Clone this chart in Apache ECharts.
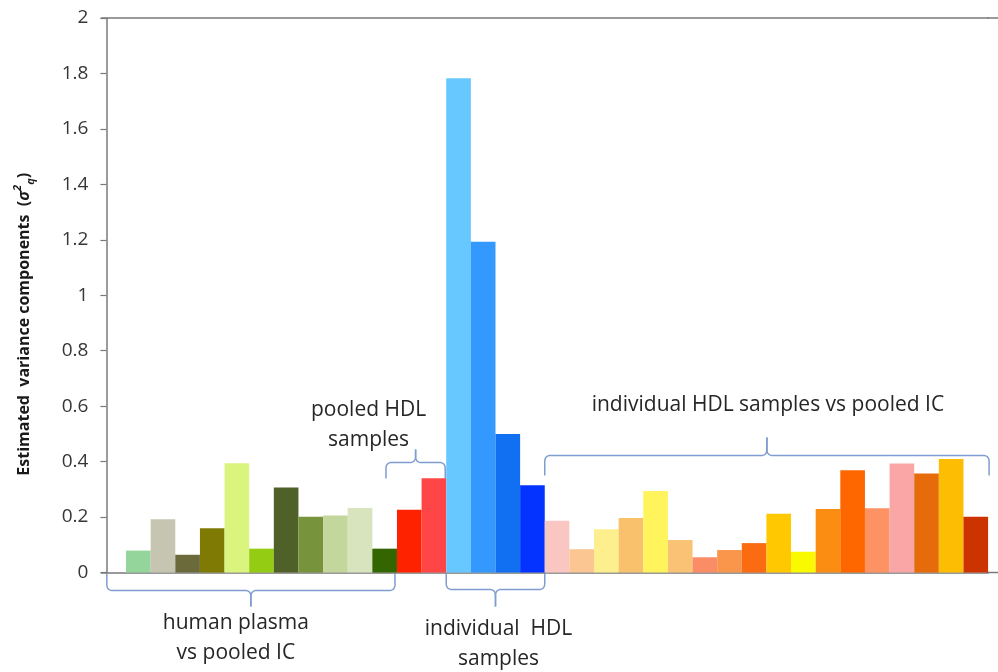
<!DOCTYPE html>
<html><head><meta charset="utf-8">
<script src="https://cdn.jsdelivr.net/npm/echarts@6/dist/echarts.min.js"></script>
<style>html,body{margin:0;padding:0;background:#fff;}#c{width:998px;height:672px;}</style>
</head><body><div id="c"></div>
<script>
// ---- data ----
const yMin = 0, yMax = 2, yStep = 0.2;
const plasmaValues = [0.079, 0.192, 0.064, 0.16, 0.394, 0.086, 0.307, 0.201, 0.206, 0.233, 0.086];
const pooledValues = [0.226, 0.34];
const individualValues = [1.783, 1.193, 0.5, 0.315];
const indivVsPooledValues = [0.187, 0.084, 0.156, 0.197, 0.294, 0.117, 0.055, 0.081, 0.106, 0.212, 0.075, 0.229, 0.369, 0.232, 0.393, 0.357, 0.409, 0.201];
const groupLabels = ['human plasma\nvs pooled IC', 'pooled HDL\nsamples', 'individual  HDL\nsamples', 'individual HDL samples vs pooled IC'];
const yAxisTitle = 'Estimated  variance components  (';

// ---- colours ----
const plasmaColors = ['#93d59a', '#c6c5b1', '#6b6a3a', '#7f7a04', '#d9f57e', '#93cc12', '#4f6128', '#77933c', '#c3d69b', '#d7e4bd', '#336600'];
const pooledColors = ['#ff2200', '#ff4646'];
const individualColors = ['#66c8ff', '#3399ff', '#1170f2', '#0433ff'];
const indivVsPooledColors = ['#f9c6c1', '#fbc692', '#fdef8d', '#fac16c', '#fff45c', '#f9c274', '#fa8d66', '#f9964c', '#fb6b12', '#ffc800', '#f9f900', '#fb8d12', '#fe6600', '#fd9262', '#fba6a6', '#e66b0b', '#fcbd02', '#cc3300'];

const groups = [plasmaValues, pooledValues, individualValues, indivVsPooledValues];
const values = [].concat(...groups);
const colors = [].concat(plasmaColors, pooledColors, individualColors, indivVsPooledColors);
const categories = [''].concat(values.map((_, i) => 'S' + (i + 1)));
const seriesData = ['-'].concat(values.map((v, i) => ({ value: v, itemStyle: { color: colors[i] } })));

const FONT = "'Open Sans', 'Noto Sans', sans-serif";
const axisColor = '#7a7a7a';
const W = 998;

const chart = echarts.init(document.getElementById('c'), null, { renderer: 'canvas' });
chart.setOption({
  animation: false,
  backgroundColor: '#ffffff',
  grid: { left: 101.4, right: 9.9, top: 18, bottom: 99.5, containLabel: false },
  xAxis: [
    { type: 'category', data: categories, position: 'bottom', boundaryGap: true,
      axisLine: { show: true, onZero: false, lineStyle: { color: axisColor, width: 1.5 } },
      axisTick: { show: false }, axisLabel: { show: false }, splitLine: { show: false } },
    { type: 'category', data: categories, position: 'top', boundaryGap: true,
      axisLine: { show: true, onZero: false, lineStyle: { color: axisColor, width: 1.5 } },
      axisTick: { show: false }, axisLabel: { show: false }, splitLine: { show: false } }
  ],
  yAxis: {
    type: 'value', min: yMin, max: yMax, interval: yStep, offset: -5,
    axisLine: { show: true, lineStyle: { color: axisColor, width: 1.5 } },
    axisTick: { show: true, length: 6, inside: false, lineStyle: { color: axisColor, width: 1.2 } },
    splitLine: { show: false },
    axisLabel: { fontSize: 19, color: '#363636', margin: 18, fontFamily: FONT }
  },
  series: [{
    type: 'bar', xAxisIndex: 0, yAxisIndex: 0, data: seriesData,
    barCategoryGap: '0%', barGap: '0%'
  }]
});

// ---- annotations (braces + labels), placed from the axes' own scales ----
const cx = i => chart.convertToPixel({ xAxisIndex: 0 }, i);
const bw = cx(2) - cx(1);
const edge = i => cx(i) - bw / 2;          // left edge of category i
const y0 = chart.convertToPixel({ yAxisIndex: 0 }, 0);
const yTop = chart.convertToPixel({ yAxisIndex: 0 }, yMax);
const gridRight = edge(categories.length);

function quad(p0, c, p1, n) {
  const out = [];
  for (let k = 1; k <= n; k++) {
    const t = k / n;
    out.push([(1 - t) * (1 - t) * p0[0] + 2 * (1 - t) * t * c[0] + t * t * p1[0],
              (1 - t) * (1 - t) * p0[1] + 2 * (1 - t) * t * c[1] + t * t * p1[1]]);
  }
  return out;
}
function brace(x1, x2, yEnd, yLine, yTip) {
  const xm = (x1 + x2) / 2, r = 6, d = Math.sign(yTip - yLine);
  let left = [[x1, yEnd], [x1, yLine - d * r]];
  left = left.concat(quad([x1, yLine - d * r], [x1, yLine], [x1 + r, yLine], 8));
  left.push([xm - r, yLine]);
  left = left.concat(quad([xm - r, yLine], [xm, yLine], [xm, yLine + d * r], 8));
  left.push([xm, yTip]);
  let right = [[x2, yEnd], [x2, yLine - d * r]];
  right = right.concat(quad([x2, yLine - d * r], [x2, yLine], [x2 - r, yLine], 8));
  right.push([xm + r, yLine]);
  right = right.concat(quad([xm + r, yLine], [xm, yLine], [xm, yLine + d * r], 8));
  right.push([xm, yTip]);
  const st = { stroke: '#7f9dd0', lineWidth: 1.5, fill: null };
  return [
    { type: 'polyline', shape: { points: left }, style: st, silent: true },
    { type: 'polyline', shape: { points: right }, style: st, silent: true }
  ];
}
const n1 = plasmaValues.length, n2 = pooledValues.length, n3 = individualValues.length, n4 = indivVsPooledValues.length;
const s1 = 1, s2 = s1 + n1, s3 = s2 + n2, s4 = s3 + n3, sEnd = s4 + n4;

const bA = [edge(s1) - 0.78 * bw, edge(s2) - 2];
const bB = [edge(s2) - 11, edge(s3) - 1];
const bC = [edge(s3), edge(s4)];
const bD = [edge(s4), edge(sEnd) + 1];

const txtStyle = (t) => ({ text: t, font: '21px ' + FONT, fill: '#262626', align: 'center', verticalAlign: 'middle', lineHeight: 30 });
const lineSt = { stroke: axisColor, lineWidth: 1.5 };

const graphic = [].concat(
  [
    // axis lines continue past the last category to the picture's right edge
    { type: 'line', shape: { x1: gridRight - 1, y1: y0, x2: W, y2: y0 }, style: lineSt, silent: true },
    { type: 'line', shape: { x1: gridRight - 1, y1: yTop, x2: W, y2: yTop }, style: lineSt, silent: true }
  ],
  brace(bA[0], bA[1], y0 + 1, y0 + 18, y0 + 34),
  brace(bB[0], bB[1], y0 - 94, y0 - 110, y0 - 123),
  brace(bC[0], bC[1], y0 + 1, y0 + 17, y0 + 34),
  brace(bD[0], bD[1], y0 - 97, y0 - 117, y0 - 135),
  [
    { type: 'text', x: (bA[0] + bA[1]) / 2 - 15, y: y0 + 66, style: txtStyle(groupLabels[0]), silent: true },
    { type: 'text', x: (bB[0] + bB[1]) / 2 - 47, y: y0 - 147, style: txtStyle(groupLabels[1]), silent: true },
    { type: 'text', x: (bC[0] + bC[1]) / 2 + 3, y: y0 + 72, style: txtStyle(groupLabels[2]), silent: true },
    { type: 'text', x: (bD[0] + bD[1]) / 2 + 1, y: y0 - 167, style: txtStyle(groupLabels[3]), silent: true },
    { type: 'text', x: 24, y: (y0 + yTop) / 2 + 29, rotation: Math.PI / 2, silent: true,
      style: {
        text: '{a|' + yAxisTitle + '}{s|σ}{p|2}{q|q}{a|)}',
        align: 'center', verticalAlign: 'middle', fill: '#1a1a1a',
        rich: {
          a: { fontFamily: FONT, fontSize: 16, fontWeight: 'bold', fill: '#1a1a1a', lineHeight: 24, verticalAlign: 'middle' },
          s: { fontFamily: FONT, fontSize: 16, fontWeight: 'bold', fontStyle: 'italic', fill: '#1a1a1a', lineHeight: 24, verticalAlign: 'middle' },
          p: { fontFamily: FONT, fontSize: 11, fontWeight: 'bold', fontStyle: 'italic', fill: '#1a1a1a', lineHeight: 24, verticalAlign: 'top' },
          q: { fontFamily: FONT, fontSize: 11, fontWeight: 'bold', fontStyle: 'italic', fill: '#1a1a1a', lineHeight: 24, verticalAlign: 'bottom' }
        }
      } }
  ]
);
chart.setOption({ graphic: graphic });
</script>
</body></html>
